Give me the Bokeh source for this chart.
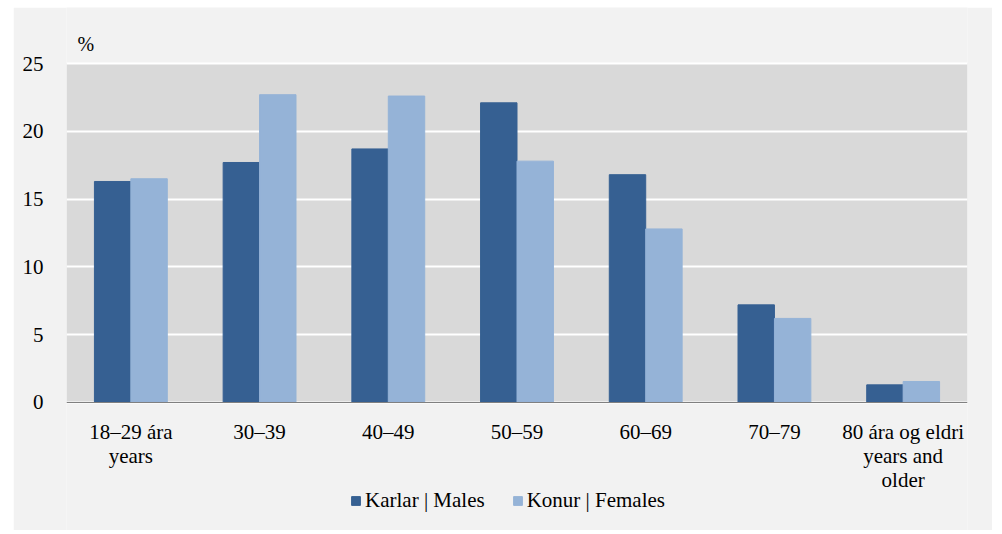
from bokeh.plotting import figure
from bokeh.models import (ColumnDataSource, FactorRange, Range1d, Legend, LegendItem,
                          FixedTicker, Label, BoxAnnotation)
from bokeh.transform import dodge
from bokeh.embed import file_html
from bokeh.resources import INLINE

categories = ["18–29 ára\nyears", "30–39", "40–49", "50–59", "60–69", "70–79", "80 ára og eldri\nyears and\nolder"]
males = [16.3, 17.7, 18.7, 22.1, 16.8, 7.2, 1.3]
females = [16.5, 22.7, 22.6, 17.8, 12.8, 6.2, 1.55]
y_ticks = [0, 5, 10, 15, 20, 25]
y_min, y_max = 0, 25

FONT = "Liberation Serif"
DARK = "#366092"
LIGHT = "#95b3d7"
PANEL = "#f2f2f2"
PLOTBG = "#d9d9d9"

src = ColumnDataSource(dict(cat=categories, m=males, f=females))

# frame covers the whole card; data area 0..25 is the grey box
p = figure(width=979, height=523, x_range=FactorRange(*categories, range_padding=0),
           y_range=Range1d(-9.44, 29.13), output_backend="svg", toolbar_location=None,
           min_border_left=53, min_border_right=25, min_border_top=0, min_border_bottom=0)
p.margin = (7, 0, 0, 13)
p.background_fill_color = PANEL
p.border_fill_color = PANEL
p.outline_line_color = None

p.add_layout(BoxAnnotation(bottom=y_min, top=y_max, fill_color=PLOTBG, fill_alpha=1,
                           line_color=None, level="image"))

bw = 0.283
rm = p.vbar(x=dodge("cat", -bw / 2, range=p.x_range), top="m", width=bw, source=src,
            fill_color=DARK, line_color=DARK)
rf = p.vbar(x=dodge("cat", bw / 2, range=p.x_range), top="f", width=bw, source=src,
            fill_color=LIGHT, line_color=LIGHT)

p.xgrid.grid_line_color = None
p.ygrid.grid_line_color = "white"
p.ygrid.grid_line_width = 2
p.ygrid.ticker = FixedTicker(ticks=y_ticks)

p.yaxis.ticker = FixedTicker(ticks=y_ticks)
p.yaxis.axis_line_color = None
p.yaxis.major_tick_line_color = None
p.yaxis.minor_tick_line_color = None
p.yaxis.major_label_standoff = 17
p.yaxis.major_label_text_font = FONT
p.yaxis.major_label_text_font_size = "21px"
p.yaxis.major_label_text_color = "black"

p.xaxis.fixed_location = 0
p.xaxis.axis_line_color = "#808080"
p.xaxis.axis_line_width = 1
p.xaxis.major_tick_line_color = None
p.xaxis.minor_tick_line_color = None
p.xaxis.major_label_standoff = 12
p.xaxis.major_label_text_font = FONT
p.xaxis.major_label_text_font_size = "21px"
p.xaxis.major_label_text_color = "black"
p.xaxis.major_label_text_line_height = 1.0

p.add_layout(Label(x=0, y=y_max, x_offset=11, y_offset=20, text="%", text_font=FONT,
                   text_font_size="20px", text_color="black", text_baseline="alphabetic"))

legend = Legend(items=[LegendItem(label="Karlar | Males", renderers=[rm]),
                       LegendItem(label="Konur | Females", renderers=[rf])],
                orientation="horizontal", location=(284, 17),
                glyph_width=11, glyph_height=11, label_standoff=4, spacing=27,
                padding=0, margin=0, background_fill_alpha=0, border_line_alpha=0,
                label_text_font=FONT, label_text_font_size="21px", label_text_color="black")
p.add_layout(legend, "center")

open("out.html", "w").write(file_html(p, INLINE))
